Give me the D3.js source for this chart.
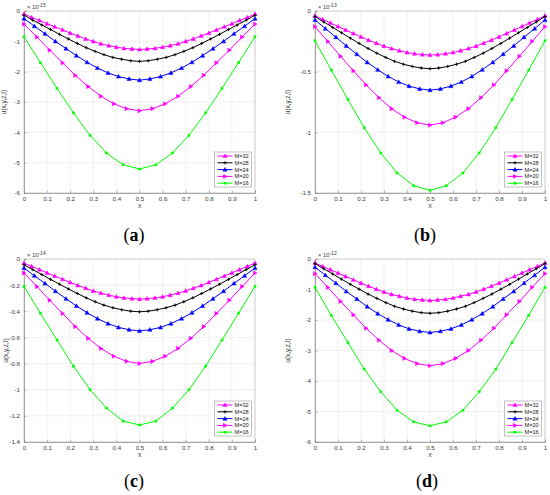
<!DOCTYPE html>
<html>
<head>
<meta charset="utf-8">
<script src="https://cdn.jsdelivr.net/npm/d3@7"></script>
<style>
  body { margin: 0; background: #fff; }
  svg { display: block; }
  .tick text { font-family: "Liberation Sans", Arial, sans-serif; }
</style>
</head>
<body>
<div id="chart"></div>
<script>
// node positions along x for each M
var x16 = [0,0.071,0.143,0.214,0.286,0.357,0.429,0.5,0.571,0.643,0.714,0.786,0.857,0.929,1];
var x20 = [0,0.056,0.111,0.167,0.222,0.278,0.333,0.389,0.444,0.5,0.556,0.611,0.667,0.722,0.778,0.833,0.889,0.944,1];
var x24 = [0,0.045,0.091,0.136,0.182,0.227,0.273,0.318,0.364,0.409,0.455,0.5,0.545,0.591,0.636,0.682,0.727,0.773,0.818,0.864,0.909,0.955,1];
var x28 = [0,0.038,0.077,0.115,0.154,0.192,0.231,0.269,0.308,0.346,0.385,0.423,0.462,0.5,0.538,0.577,0.615,0.654,0.692,0.731,0.769,0.808,0.846,0.885,0.923,0.962,1];
var x32 = [0,0.033,0.067,0.1,0.133,0.167,0.2,0.233,0.267,0.3,0.333,0.367,0.4,0.433,0.467,0.5,0.533,0.567,0.6,0.633,0.667,0.7,0.733,0.767,0.8,0.833,0.867,0.9,0.933,0.967,1];

var seriesNames = ["M=32", "M=28", "M=24", "M=20", "M=16"];

// (a) values x 1e-15
var a32 = [-0.10,-0.21,-0.31,-0.42,-0.52,-0.62,-0.73,-0.82,-0.92,-1.00,-1.08,-1.14,-1.19,-1.23,-1.25,-1.27,-1.25,-1.23,-1.19,-1.14,-1.08,-1.00,-0.92,-0.82,-0.73,-0.62,-0.52,-0.42,-0.31,-0.21,-0.10];
var a28 = [-0.14,-0.30,-0.46,-0.61,-0.77,-0.92,-1.07,-1.21,-1.33,-1.44,-1.53,-1.59,-1.64,-1.66,-1.64,-1.59,-1.53,-1.44,-1.33,-1.21,-1.07,-0.92,-0.77,-0.61,-0.46,-0.30,-0.14];
var a24 = [-0.25,-0.50,-0.75,-1.00,-1.24,-1.47,-1.69,-1.88,-2.04,-2.16,-2.24,-2.28,-2.24,-2.16,-2.04,-1.88,-1.69,-1.47,-1.24,-1.00,-0.75,-0.50,-0.25];
var a20 = [-0.43,-0.86,-1.29,-1.71,-2.12,-2.49,-2.81,-3.06,-3.22,-3.29,-3.22,-3.06,-2.81,-2.49,-2.12,-1.71,-1.29,-0.86,-0.43];
var a16 = [-0.85,-1.70,-2.55,-3.36,-4.10,-4.68,-5.07,-5.21,-5.07,-4.68,-4.10,-3.36,-2.55,-1.70,-0.85];

// (b) values x 1e-13
var b32 = [-0.040,-0.069,-0.098,-0.127,-0.156,-0.185,-0.213,-0.240,-0.265,-0.289,-0.309,-0.327,-0.342,-0.352,-0.359,-0.363,-0.359,-0.352,-0.342,-0.327,-0.309,-0.289,-0.265,-0.240,-0.213,-0.185,-0.156,-0.127,-0.098,-0.069,-0.040];
var b28 = [-0.045,-0.090,-0.135,-0.179,-0.224,-0.267,-0.309,-0.348,-0.383,-0.415,-0.439,-0.457,-0.470,-0.476,-0.470,-0.457,-0.439,-0.415,-0.383,-0.348,-0.309,-0.267,-0.224,-0.179,-0.135,-0.090,-0.045];
var b24 = [-0.074,-0.145,-0.216,-0.287,-0.356,-0.423,-0.484,-0.539,-0.585,-0.619,-0.642,-0.652,-0.642,-0.619,-0.585,-0.539,-0.484,-0.423,-0.356,-0.287,-0.216,-0.145,-0.074];
var b20 = [-0.129,-0.251,-0.373,-0.493,-0.609,-0.714,-0.805,-0.875,-0.921,-0.941,-0.921,-0.875,-0.805,-0.714,-0.609,-0.493,-0.373,-0.251,-0.129];
var b16 = [-0.245,-0.487,-0.729,-0.961,-1.170,-1.335,-1.440,-1.478,-1.440,-1.335,-1.170,-0.961,-0.729,-0.487,-0.245];

// (c) values x 1e-14
var c32 = [-0.031,-0.056,-0.081,-0.106,-0.130,-0.155,-0.179,-0.202,-0.223,-0.244,-0.261,-0.276,-0.289,-0.297,-0.303,-0.307,-0.303,-0.297,-0.289,-0.276,-0.261,-0.244,-0.223,-0.202,-0.179,-0.155,-0.130,-0.106,-0.081,-0.056,-0.031];
var c28 = [-0.044,-0.081,-0.119,-0.156,-0.193,-0.229,-0.264,-0.297,-0.327,-0.353,-0.373,-0.388,-0.399,-0.404,-0.399,-0.388,-0.373,-0.353,-0.327,-0.297,-0.264,-0.229,-0.193,-0.156,-0.119,-0.081,-0.044];
var c24 = [-0.069,-0.128,-0.187,-0.246,-0.304,-0.359,-0.411,-0.456,-0.494,-0.523,-0.541,-0.550,-0.541,-0.523,-0.494,-0.456,-0.411,-0.359,-0.304,-0.246,-0.187,-0.128,-0.069];
var c20 = [-0.107,-0.211,-0.315,-0.417,-0.517,-0.607,-0.684,-0.744,-0.783,-0.800,-0.783,-0.744,-0.684,-0.607,-0.517,-0.417,-0.315,-0.211,-0.107];
var c16 = [-0.21,-0.415,-0.62,-0.82,-1.00,-1.14,-1.24,-1.27,-1.24,-1.14,-1.00,-0.82,-0.62,-0.415,-0.21];

// (d) values x 1e-12
var d32 = [-0.13,-0.24,-0.35,-0.46,-0.57,-0.68,-0.79,-0.89,-0.99,-1.08,-1.16,-1.22,-1.28,-1.32,-1.34,-1.36,-1.34,-1.32,-1.28,-1.22,-1.16,-1.08,-0.99,-0.89,-0.79,-0.68,-0.57,-0.46,-0.35,-0.24,-0.13];
var d28 = [-0.15,-0.32,-0.49,-0.66,-0.83,-0.99,-1.15,-1.29,-1.43,-1.55,-1.64,-1.71,-1.76,-1.78,-1.76,-1.71,-1.64,-1.55,-1.43,-1.29,-1.15,-0.99,-0.83,-0.66,-0.49,-0.32,-0.15];
var d24 = [-0.27,-0.53,-0.79,-1.06,-1.31,-1.56,-1.79,-1.99,-2.16,-2.29,-2.37,-2.41,-2.37,-2.29,-2.16,-1.99,-1.79,-1.56,-1.31,-1.06,-0.79,-0.53,-0.27];
var d20 = [-0.48,-0.93,-1.39,-1.83,-2.27,-2.66,-3.00,-3.26,-3.43,-3.50,-3.43,-3.26,-3.00,-2.66,-2.27,-1.83,-1.39,-0.93,-0.48];
var d16 = [-0.93,-1.85,-2.74,-3.61,-4.35,-4.96,-5.34,-5.47,-5.34,-4.96,-4.35,-3.61,-2.74,-1.85,-0.93];

var xTicks = [0,0.1,0.2,0.3,0.4,0.5,0.6,0.7,0.8,0.9,1];
var yTicksA = [0,-1,-2,-3,-4,-5,-6];
var yTicksB = [0,-0.5,-1,-1.5];
var yTicksC = [0,-0.2,-0.4,-0.6,-0.8,-1,-1.2,-1.4];
var yTicksD = [0,-1,-2,-3,-4,-5,-6];

var W = 550, H = 495;
var svg = d3.select("#chart").append("svg").attr("width", W).attr("height", H);

// marker styles per series, same order as seriesNames
var styles = [
    {color: "#ff00ff", marker: "tri"},
    {color: "#000000", marker: "plus"},
    {color: "#0000ff", marker: "tri"},
    {color: "#ff00ff", marker: "triRight"},
    {color: "#00ff00", marker: "square"}
];

function drawMarker(g, type, color, x, y, s) {
    if (type == "tri") {
        g.append("path")
            .attr("d", "M" + x + "," + (y - s) + "L" + (x + s) + "," + (y + s * 0.75) + "L" + (x - s) + "," + (y + s * 0.75) + "Z")
            .attr("fill", color).attr("stroke", color).attr("stroke-width", 0.5);
    } else if (type == "triRight") {
        g.append("path")
            .attr("d", "M" + (x + s) + "," + y + "L" + (x - s * 0.75) + "," + (y - s) + "L" + (x - s * 0.75) + "," + (y + s) + "Z")
            .attr("fill", color).attr("stroke", color).attr("stroke-width", 0.5);
    } else if (type == "plus") {
        g.append("path")
            .attr("d", "M" + (x - 1.6) + "," + y + "H" + (x + 1.6) + "M" + x + "," + (y - 1.6) + "V" + (y + 1.6))
            .attr("stroke", color).attr("stroke-width", 0.9);
    } else {
        g.append("rect")
            .attr("x", x - 1.3).attr("y", y - 1.3)
            .attr("width", 2.6).attr("height", 2.6)
            .attr("fill", color);
    }
}

function drawPanel(p) {
    var x = d3.scaleLinear().domain([0, 1]).range([p.left, p.right]);
    var y = d3.scaleLinear().domain([p.yTicks[p.yTicks.length - 1], 0]).range([p.bottom, p.top]);
    var g = svg.append("g");

    // grid
    g.selectAll(".gx").data(xTicks).enter().append("line")
        .attr("x1", function(d){ return x(d); }).attr("x2", function(d){ return x(d); })
        .attr("y1", p.top).attr("y2", p.bottom)
        .attr("stroke", "#e8e8e8").attr("stroke-width", 0.6);
    g.selectAll(".gy").data(p.yTicks).enter().append("line")
        .attr("x1", p.left).attr("x2", p.right)
        .attr("y1", function(d){ return y(d); }).attr("y2", function(d){ return y(d); })
        .attr("stroke", "#e8e8e8").attr("stroke-width", 0.6);

    // box
    g.append("rect")
        .attr("x", p.left).attr("y", p.top)
        .attr("width", p.right - p.left).attr("height", p.bottom - p.top)
        .attr("fill", "none").attr("stroke", "#c4c4c4").attr("stroke-width", 0.7);

    // axes
    var xAxis = d3.axisBottom(x).tickValues(xTicks).tickSize(-2.5).tickPadding(4)
        .tickFormat(function(d){ return d3.format("~g")(d); });
    var gx = g.append("g").attr("transform", "translate(0," + p.bottom + ")").call(xAxis);
    var yAxis = d3.axisLeft(y).tickValues(p.yTicks).tickSize(-2.5).tickPadding(4)
        .tickFormat(function(d){ return d == 0 ? "0" : d3.format("~g")(d).replace("\u2212", "-"); });
    var gy = g.append("g").attr("transform", "translate(" + p.left + ",0)").call(yAxis);
    [gx, gy].forEach(function(a){
        a.select(".domain").attr("stroke", "#8a8a8a").attr("stroke-width", 0.7);
        a.selectAll(".tick line").attr("stroke", "#8a8a8a").attr("stroke-width", 0.6);
        a.selectAll(".tick text").attr("font-size", 6.2).attr("fill", "#3a3a3a");
    });

    // exponent
    var ex = g.append("text")
        .attr("x", p.left + 3).attr("y", p.top - 2)
        .attr("font-family", "Liberation Sans, Arial, sans-serif")
        .attr("font-size", 5.8).attr("fill", "#3a3a3a");
    ex.append("tspan").text("\u00d7 10");
    ex.append("tspan").attr("dy", -2.5).attr("font-size", 5).text(p.exponent);

    // axis labels
    g.append("text")
        .attr("x", (p.left + p.right) / 2).attr("y", p.bottom + 15)
        .attr("text-anchor", "middle")
        .attr("font-family", "Liberation Sans, Arial, sans-serif")
        .attr("font-size", 6.5).attr("fill", "#3a3a3a")
        .text("x");
    g.append("text")
        .attr("transform", "translate(" + p.yLabelX + "," + ((p.top + p.bottom) / 2) + ") rotate(-90)")
        .attr("text-anchor", "middle")
        .attr("font-family", "Liberation Sans, Arial, sans-serif")
        .attr("font-size", 6.5).attr("fill", "#3a3a3a")
        .text("u(x,y,z,t)");

    // series
    var line = d3.line()
        .x(function(d){ return x(d[0]); })
        .y(function(d){ return y(d[1]); });
    p.series.forEach(function(s, i){
        var pts = s.xs.map(function(v, k){ return [v, s.ys[k]]; });
        g.append("path").datum(pts)
            .attr("d", line)
            .attr("fill", "none")
            .attr("stroke", styles[i].color)
            .attr("stroke-width", 1);
        pts.forEach(function(pt){
            drawMarker(g, styles[i].marker, styles[i].color, x(pt[0]), y(pt[1]), 2.1);
        });
    });

    // legend
    var lw = 37, lh = 35;
    var lx = p.right - 3.5 - lw, ly = p.bottom - 6 - lh;
    g.append("rect")
        .attr("x", lx).attr("y", ly).attr("width", lw).attr("height", lh)
        .attr("fill", "#fff").attr("stroke", "#9a9a9a").attr("stroke-width", 0.6);
    seriesNames.forEach(function(name, i){
        var ry = ly + 4 + i * 6.8;
        g.append("line")
            .attr("x1", lx + 3).attr("x2", lx + 18)
            .attr("y1", ry).attr("y2", ry)
            .attr("stroke", styles[i].color).attr("stroke-width", 1);
        drawMarker(g, styles[i].marker, styles[i].color, lx + 10.5, ry, 2.1);
        g.append("text")
            .attr("x", lx + 20).attr("y", ry + 2)
            .attr("font-family", "Liberation Sans, Arial, sans-serif")
            .attr("font-size", 5.6).attr("fill", "#222")
            .text(name);
    });

    // caption
    var cap = g.append("text")
        .attr("x", p.capX).attr("y", p.capY)
        .attr("text-anchor", "middle")
        .attr("font-family", "Liberation Serif, serif")
        .attr("font-size", 18).attr("fill", "#000");
    cap.append("tspan").text("(");
    cap.append("tspan").attr("font-weight", "bold").text(p.label);
    cap.append("tspan").text(")");
}

drawPanel({left: 24, right: 255, top: 11, bottom: 193, yTicks: yTicksA, exponent: "-15",
    yLabelX: 6, capX: 134, capY: 241, label: "a",
    series: [{xs: x32, ys: a32}, {xs: x28, ys: a28}, {xs: x24, ys: a24}, {xs: x20, ys: a20}, {xs: x16, ys: a16}]});
drawPanel({left: 315, right: 545, top: 11, bottom: 193, yTicks: yTicksB, exponent: "-13",
    yLabelX: 290, capX: 425, capY: 241, label: "b",
    series: [{xs: x32, ys: b32}, {xs: x28, ys: b28}, {xs: x24, ys: b24}, {xs: x20, ys: b20}, {xs: x16, ys: b16}]});
drawPanel({left: 24, right: 255, top: 259, bottom: 442, yTicks: yTicksC, exponent: "-14",
    yLabelX: 8, capX: 134, capY: 487, label: "c",
    series: [{xs: x32, ys: c32}, {xs: x28, ys: c28}, {xs: x24, ys: c24}, {xs: x20, ys: c20}, {xs: x16, ys: c16}]});
drawPanel({left: 315, right: 545, top: 259, bottom: 442, yTicks: yTicksD, exponent: "-12",
    yLabelX: 290, capX: 427, capY: 487, label: "d",
    series: [{xs: x32, ys: d32}, {xs: x28, ys: d28}, {xs: x24, ys: d24}, {xs: x20, ys: d20}, {xs: x16, ys: d16}]});
</script>
</body>
</html>
